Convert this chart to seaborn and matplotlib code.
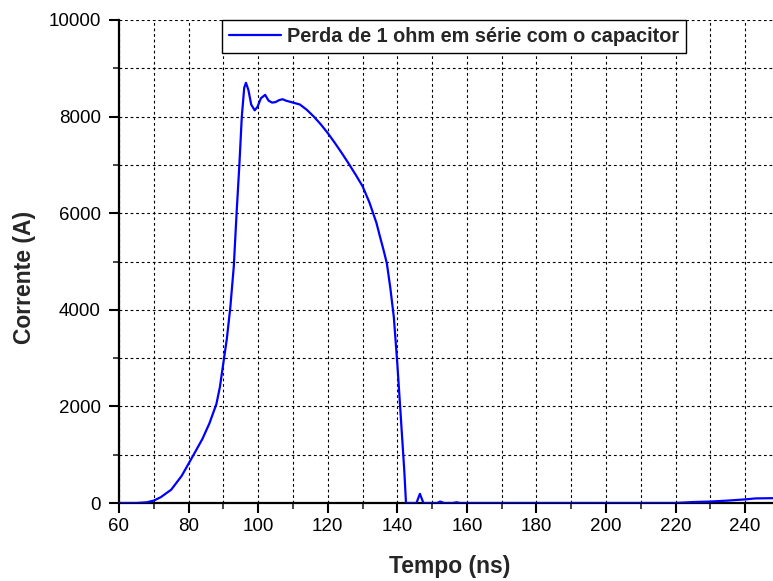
import matplotlib
matplotlib.use('Agg')
import matplotlib.pyplot as plt
import seaborn as sns
from matplotlib.ticker import MultipleLocator

# Curve
tempo = [60, 65, 68, 70, 72, 75, 78, 80, 82, 84, 86, 88, 89, 90, 91, 92, 93,
         93.8, 94.6, 95.3, 96, 96.5, 97.2, 98, 99, 99.8, 100.8, 102, 103, 104,
         105, 106, 107, 108, 110, 112, 114, 116, 118, 120, 122, 124, 126, 128,
         130, 132, 134, 135, 136, 137, 138, 139, 140, 141, 142, 142.5, 145.5,
         146.5, 147.5, 151.5, 152.3, 153.5, 156, 157, 158, 160, 220, 225, 230,
         235, 240, 243, 248]
corrente = [0, 0, 15, 50, 120, 275, 560, 814, 1070, 1330, 1650, 2050, 2400,
            2900, 3400, 4050, 4900, 6000, 7000, 8000, 8600, 8700, 8550, 8250,
            8130, 8200, 8380, 8450, 8330, 8290, 8300, 8340, 8360, 8330, 8290,
            8250, 8140, 8000, 7840, 7660, 7460, 7250, 7030, 6800, 6560, 6220,
            5800, 5520, 5250, 4960, 4450, 3850, 2890, 1790, 680, 0, 0, 190, 0,
            0, 30, 0, 0, 15, 0, 0, 0, 20, 30, 50, 75, 95, 100]

legenda = 'Perda de 1 ohm em série com o capacitor'

sns.set_theme(style='white')
plt.rcParams['font.family'] = ['Liberation Sans', 'DejaVu Sans']

fig = plt.figure(figsize=(7.73, 5.81), dpi=100)
ax = fig.add_axes([119 / 773, 1 - 503 / 581, 654 / 773, 483 / 581])

sns.lineplot(x=tempo, y=corrente, ax=ax, color='#0000ff', linewidth=1.6,
             label=legenda, estimator=None, sort=False, zorder=3)

ax.set_xlim(60, 248)
ax.set_ylim(0, 10000)
ax.xaxis.set_major_locator(MultipleLocator(20))
ax.xaxis.set_minor_locator(MultipleLocator(10))
ax.yaxis.set_major_locator(MultipleLocator(2000))
ax.yaxis.set_minor_locator(MultipleLocator(1000))

# dashed grid on every major and minor tick
ax.grid(True, which='both', color='black', linestyle=(0, (2.5, 2.5)),
        linewidth=0.8)
ax.set_axisbelow(True)

for s in ['top', 'right']:
    ax.spines[s].set_visible(False)
for s in ['left', 'bottom']:
    ax.spines[s].set_color('black')
    ax.spines[s].set_linewidth(1.6)

ax.tick_params(which='major', direction='out', length=7, width=1.5,
               labelsize=13.5, colors='black', bottom=True, left=True)
ax.tick_params(which='minor', direction='out', length=4, width=1.2,
               bottom=True, left=True)
ax.tick_params(axis='x', pad=4)
ax.tick_params(axis='y', pad=6)

ax.set_xlabel('Tempo (ns)', fontsize=16.5, fontweight='bold')
ax.set_ylabel('Corrente (A)', fontsize=16.5, fontweight='bold')
ax.xaxis.set_label_coords(0.505, -0.108)
ax.yaxis.set_label_coords(-0.127, 0.466)

leg = ax.legend(loc='upper center', bbox_to_anchor=(0.512, 1.0),
                borderaxespad=0, frameon=True, fancybox=False,
                prop={'weight': 'bold', 'size': 14.3}, handlelength=2.6,
                handletextpad=0.3, borderpad=0.35)
leg.get_frame().set_edgecolor('black')
leg.get_frame().set_linewidth(1.0)
leg.get_frame().set_alpha(1)

fig.savefig('out.png', dpi=100)
